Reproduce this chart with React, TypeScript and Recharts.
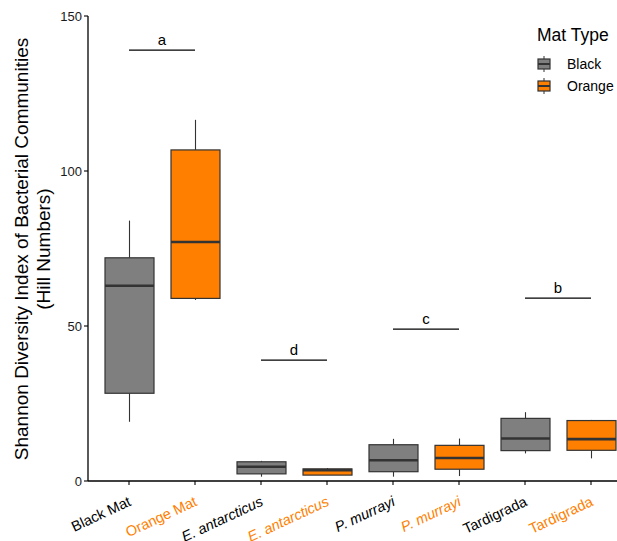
import React from "react";
import { ComposedChart, Bar, XAxis, YAxis, ReferenceLine, Legend } from "recharts";

const categories = ["Black Mat", "Orange Mat", "E. antarcticus", "E. antarcticus", "P. murrayi", "P. murrayi", "Tardigrada", "Tardigrada"];
const matTypes = ["Black", "Orange", "Black", "Orange", "Black", "Orange", "Black", "Orange"];
const italicLabels = [false, false, true, true, true, true, false, false];
const whiskerLow = [19.1, 58.4, 1.4, 1.9, 1.4, 1.6, 8.9, 7.3];
const q1 = [28.3, 58.9, 2.3, 1.9, 3.0, 3.8, 9.8, 9.9];
const median = [63.0, 77.1, 4.6, 3.5, 6.7, 7.4, 13.7, 13.5];
const q3 = [72.0, 106.8, 6.2, 3.9, 11.7, 11.5, 20.2, 19.5];
const whiskerHigh = [84.0, 116.5, 6.5, 4.2, 13.6, 13.7, 22.2, 19.7];

const yTicks = [0, 50, 100, 150];

const sigLetters = ["a", "d", "c", "b"];
const sigFrom = [0, 2, 4, 6];
const sigTo = [1, 3, 5, 7];
const sigY = [139, 39, 49, 59];

const legendNames = ["Black", "Orange"];
const colors: Record<string, string> = { Black: "#7F7F7F", Orange: "#FF7F00" };
const textColors: Record<string, string> = { Black: "#000000", Orange: "#FF7F00" };

const FONT = "'Liberation Sans', Arial, sans-serif";
const OUTLINE = "#333333";

const data = categories.map((c, i) => ({
  id: String(i),
  name: c,
  mat: matTypes[i],
  low: whiskerLow[i],
  q1: q1[i],
  median: median[i],
  q3: q3[i],
  high: whiskerHigh[i],
}));

const BoxShape = (props: any) => {
  const { x, y, width, height, payload } = props;
  const top = Math.min(y, y + height);
  const h = Math.abs(height);
  const range = payload.high - payload.low;
  const k = range > 0 ? h / range : 0;
  const yOf = (v: number) => top + (payload.high - v) * k;
  const cx = x + width / 2;
  const fill = colors[payload.mat];
  return (
    <g>
      <line x1={cx} x2={cx} y1={yOf(payload.high)} y2={yOf(payload.q3)} stroke={OUTLINE} strokeWidth={1.1} />
      <line x1={cx} x2={cx} y1={yOf(payload.q1)} y2={yOf(payload.low)} stroke={OUTLINE} strokeWidth={1.1} />
      <rect x={x} y={yOf(payload.q3)} width={width} height={Math.max(0.5, yOf(payload.q1) - yOf(payload.q3))} fill={fill} stroke={OUTLINE} strokeWidth={1.2} />
      <line x1={x} x2={x + width} y1={yOf(payload.median)} y2={yOf(payload.median)} stroke={OUTLINE} strokeWidth={2.6} />
    </g>
  );
};

const XTick = (props: any) => {
  const { x, payload } = props;
  const i = Number(payload.value);
  const ax = x + 3;
  const ay = 505;
  return (
    <text
      x={ax}
      y={ay}
      textAnchor="end"
      transform={`rotate(-25, ${ax}, ${ay})`}
      fontFamily={FONT}
      fontSize={14.5}
      fontStyle={italicLabels[i] ? "italic" : "normal"}
      fill={textColors[matTypes[i]]}
    >
      {categories[i]}
    </text>
  );
};

const YLabel = () => (
  <text transform="translate(28,249) rotate(-90)" textAnchor="middle" fontFamily={FONT} fontSize={19} fill="#000">
    <tspan x={0} dy={0}>Shannon Diversity Index of Bacterial Communities</tspan>
    <tspan x={0} dy={22}>(Hill Numbers)</tspan>
  </text>
);

const LegendBox = () => (
  <svg width={100} height={90} style={{ display: "block" }}>
    <text x={7} y={21} fontFamily={FONT} fontSize={17.5} fill="#000">Mat Type</text>
    {legendNames.map((n, i) => {
      const cy = 44 + i * 22;
      return (
        <g key={n}>
          <line x1={14} x2={14} y1={cy - 8} y2={cy + 8} stroke={OUTLINE} strokeWidth={1} />
          <rect x={8} y={cy - 5} width={12} height={10} fill={colors[n]} stroke={OUTLINE} strokeWidth={1.2} />
          <line x1={8} x2={20} y1={cy} y2={cy} stroke={OUTLINE} strokeWidth={2} />
          <text x={37} y={cy + 5} fontFamily={FONT} fontSize={14} fill="#000">{n}</text>
        </g>
      );
    })}
  </svg>
);

export default function App() {
  return (
    <div style={{ position: "absolute", left: 0, top: 0, width: 617, height: 541, overflow: "hidden", background: "#fff" }}>
      <ComposedChart
        width={640}
        height={541}
        data={data}
        margin={{ top: 16, right: 10, bottom: 0, left: 0 }}
        style={{ fontFamily: FONT }}
      >
        <XAxis
          dataKey="id"
          type="category"
          height={60}
          padding={{ left: 8, right: 6 }}
          axisLine={{ stroke: "#000", strokeWidth: 1.3 }}
          tickLine={{ stroke: "#000", strokeWidth: 1.1 }}
          tickSize={4}
          interval={0}
          tick={<XTick />}
        />
        <YAxis
          type="number"
          domain={[0, 150]}
          ticks={yTicks}
          width={88}
          axisLine={{ stroke: "#000", strokeWidth: 1.3 }}
          tickLine={{ stroke: "#000", strokeWidth: 1.1 }}
          tickSize={4}
          tick={{ fontFamily: FONT, fontSize: 13, fill: "#1a1a1a" }}
          label={{ content: () => <YLabel /> }}
        />
        <Bar
          dataKey={(d: any) => [d.low, d.high]}
          barSize={49}
          shape={<BoxShape />}
          isAnimationActive={false}
        />
        {sigLetters.map((l, i) => (
          <ReferenceLine
            key={l}
            segment={[
              { x: String(sigFrom[i]), y: sigY[i] },
              { x: String(sigTo[i]), y: sigY[i] },
            ]}
            stroke="#000"
            strokeWidth={1.3}
            label={{ value: l, position: "top", offset: 5, fontFamily: FONT, fontSize: 15, fill: "#000" }}
          />
        ))}
        <Legend
          layout="horizontal"
          align="center"
          verticalAlign="middle"
          wrapperStyle={{ position: "absolute", left: 530, top: 20, width: 100, height: 90 }}
          content={() => <LegendBox />}
        />
      </ComposedChart>
    </div>
  );
}
